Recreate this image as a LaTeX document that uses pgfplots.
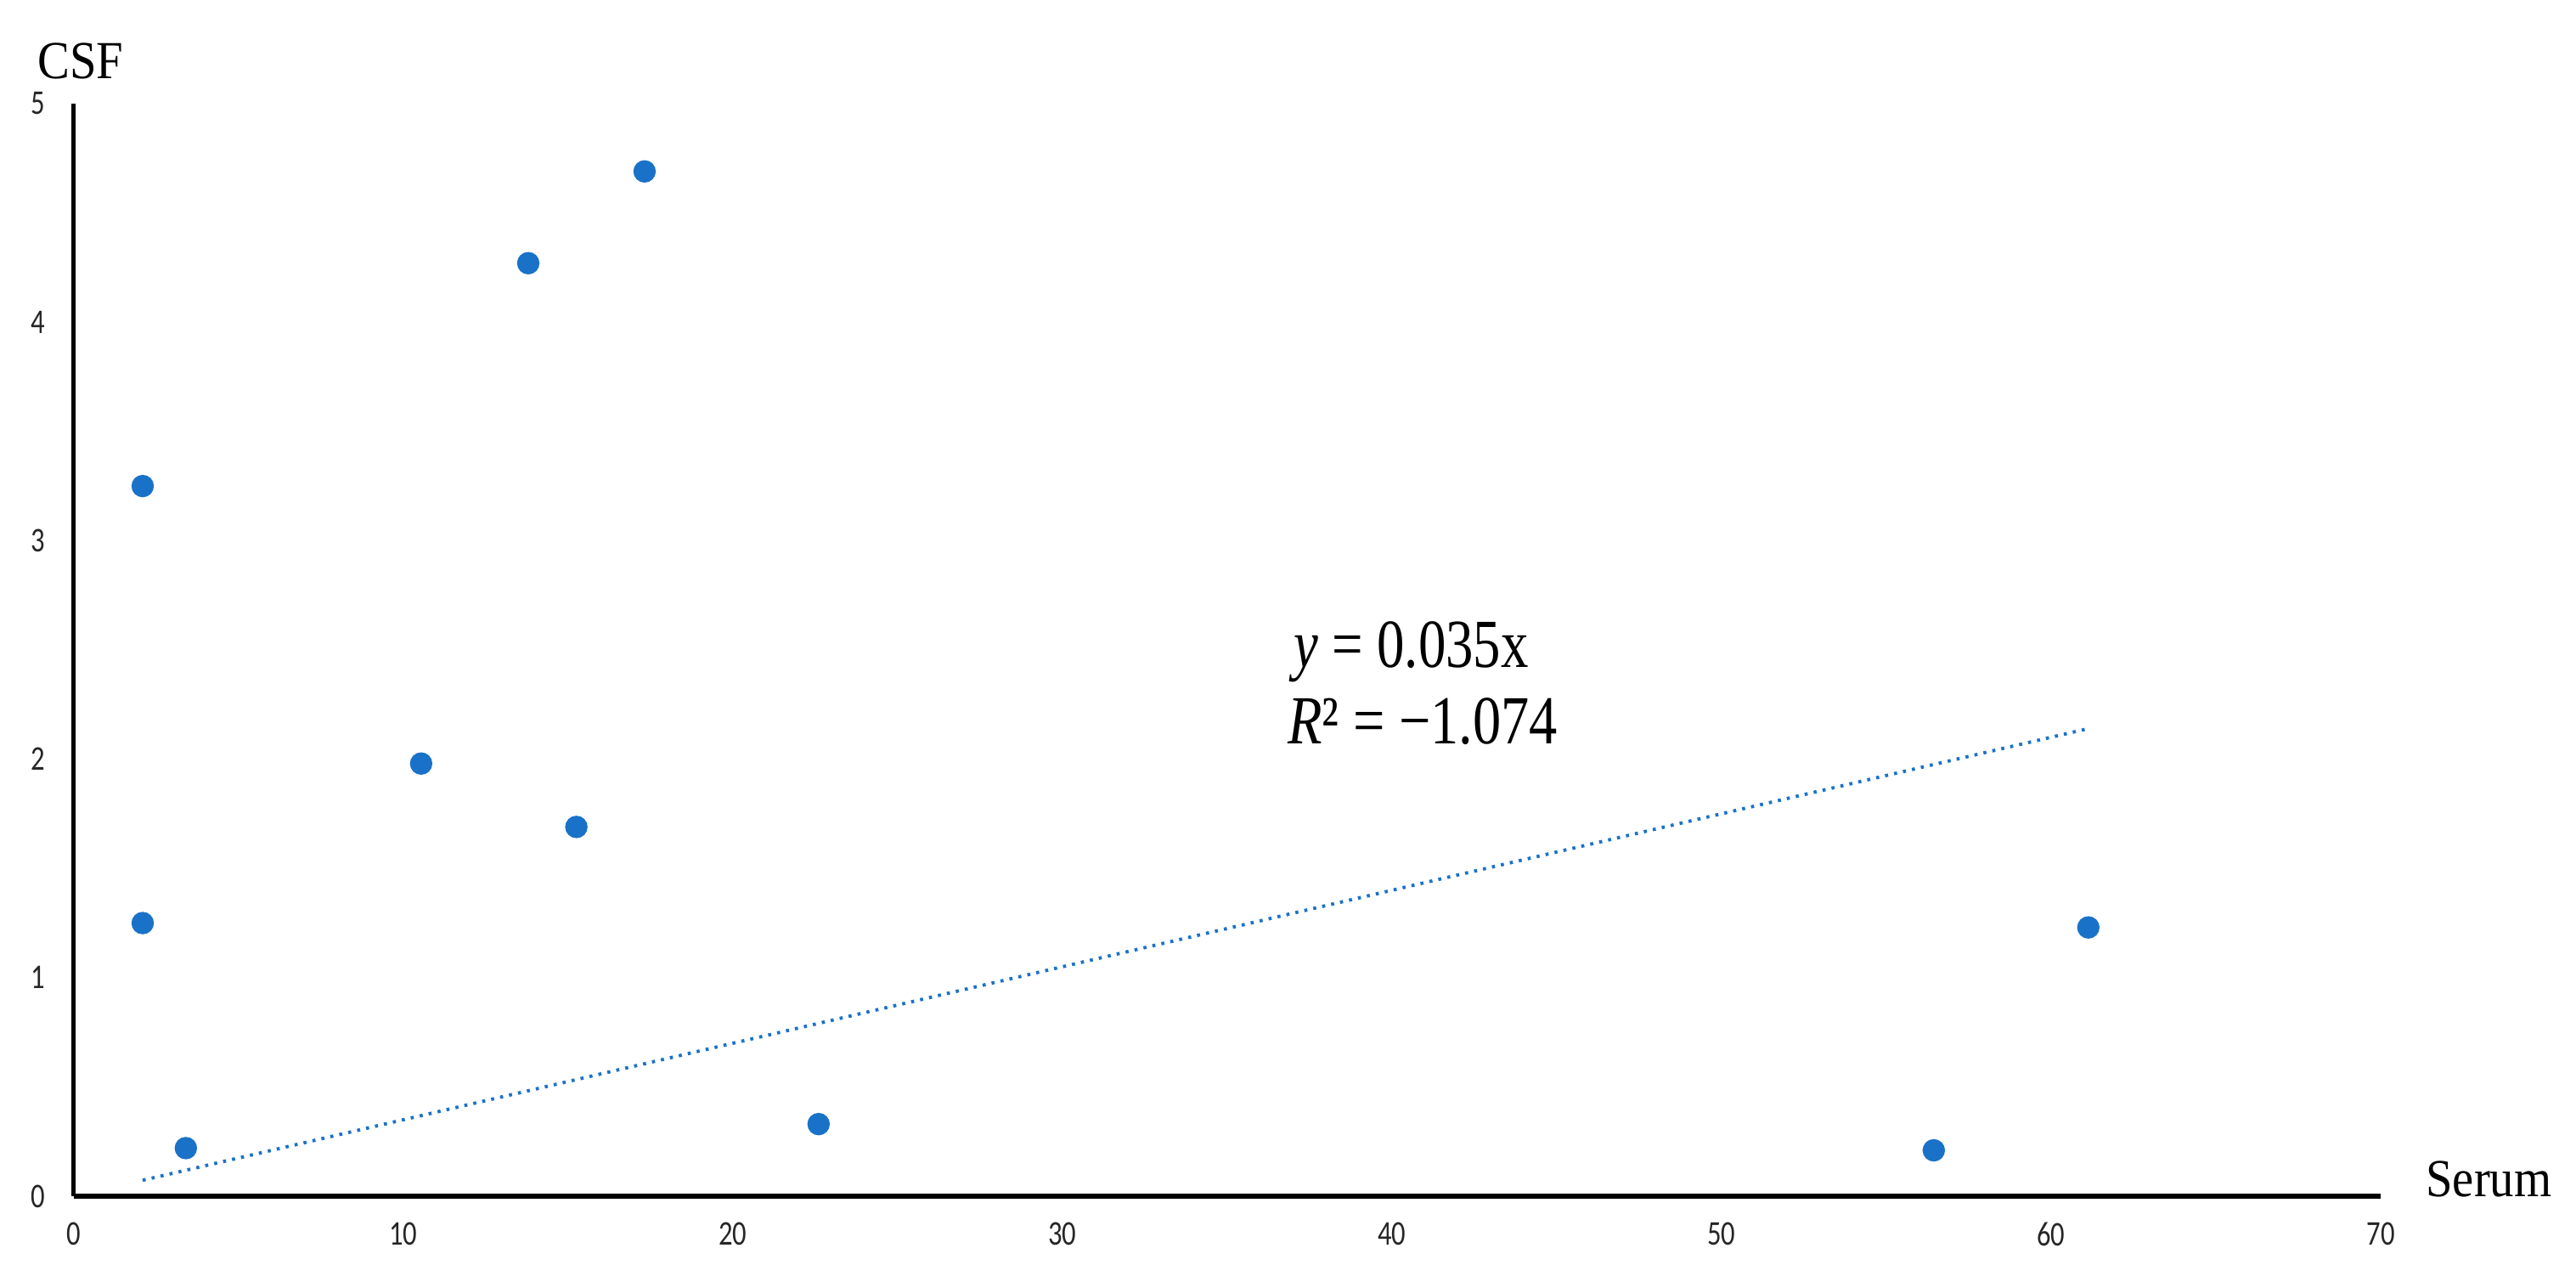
\documentclass[border=0pt]{standalone}
\usepackage{fontspec}
\usepackage{graphicx}
\usepackage{pgfplots}
\pgfplotsset{compat=1.18}
\setmainfont{Liberation Serif}
\newfontfamily\tickfont{Carlito}
\definecolor{cdot}{HTML}{1A72C8}
\newcommand{\labfont}{\fontsize{10.5}{12}\selectfont}
\newcommand{\eqfont}{\fontsize{13.5}{15.5}\selectfont}

\begin{document}
\begin{tikzpicture}
\begin{axis}[
  scale only axis,
  width=452.67pt, height=214.33pt,
  xmin=0, xmax=70, ymin=0, ymax=5,
  axis lines*=left,
  axis line style={black, line width=0.85pt},
  xtick={0,10,...,70}, ytick={0,1,...,5},
  major tick length=0pt,
  /pgf/number format/assume math mode=true,
  xticklabel style={inner sep=0pt, yshift=-5pt, text=black!85},
  yticklabel style={inner sep=0pt, xshift=-5.5pt, text=black!85},
  xticklabel={\scalebox{0.8}[1]{\tickfont\fontsize{6.8}{8}\selectfont\pgfmathprintnumber{\tick}}},
  yticklabel={\scalebox{0.8}[1]{\tickfont\fontsize{6.8}{8}\selectfont\pgfmathprintnumber{\tick}}},
  clip=false,
]
% measured points
\addplot[only marks, mark=*, mark size=2pt, cdot, mark options={fill=cdot, draw=cdot}] coordinates {
  (2.09,3.25) (2.09,1.25) (3.40,0.22) (10.54,1.98) (13.79,4.27)
  (15.25,1.69) (17.32,4.69) (22.60,0.33) (56.44,0.21) (61.13,1.23)
};
% trendline
\addplot[cdot, line width=0.65pt, dash pattern=on 0.6pt off 1.2pt] coordinates {(2.09,0.073) (61.13,2.14)};

\node[anchor=base west, inner sep=0pt, xshift=-7.3pt, yshift=5pt] at (rel axis cs:0,1) {\labfont\scalebox{0.9}[1]{CSF}};
\node[anchor=base west, inner sep=0pt, xshift=8.7pt] at (rel axis cs:1,0) {\labfont\scalebox{0.9}[1]{Serum}};
\node[anchor=base west, inner sep=0pt] at (axis cs:37.0,2.42) {\eqfont\scalebox{0.8}[1]{\textit{y} = 0.035x}};
\node[anchor=base west, inner sep=0pt] at (axis cs:36.8,2.07) {\eqfont\scalebox{0.82}[1]{\textit{R}² = −1.074}};

\path[draw=none] (rel axis cs:-0.032,-0.0622) rectangle (rel axis cs:1.0847,1.0949);
\end{axis}
\end{tikzpicture}
\end{document}
